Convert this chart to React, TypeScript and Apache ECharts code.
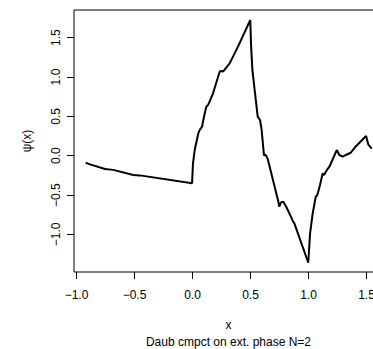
import React, { useEffect, useRef } from "react";
import * as echarts from "echarts";

const xValues = [
  -0.921, -0.884, -0.754, -0.683, -0.51, -0.453, -0.004, 0.004, 0.019, 0.05, 0.062, 0.082,
  0.102, 0.119, 0.134, 0.177, 0.194, 0.234, 0.248, 0.263, 0.32, 0.392, 0.498, 0.504, 0.516,
  0.539, 0.562, 0.582, 0.596, 0.616, 0.63, 0.648, 0.74, 0.748, 0.763, 0.783, 0.812, 0.864,
  0.878, 0.998, 1.013, 1.036, 1.062, 1.076, 1.099, 1.122, 1.134, 1.162, 1.18, 1.243, 1.266,
  1.295, 1.32, 1.364, 1.401, 1.496, 1.516, 1.545,
];
const psiValues = [
  -0.089, -0.11, -0.169, -0.18, -0.245, -0.25, -0.35, -0.097, 0.072, 0.285, 0.327, 0.369,
  0.517, 0.623, 0.644, 0.793, 0.877, 1.068, 1.077, 1.068, 1.174, 1.386, 1.725, 1.43, 1.09,
  0.793, 0.496, 0.454, 0.327, 0.005, 0.012, -0.04, -0.585, -0.648, -0.593, -0.585, -0.661,
  -0.826, -0.86, -1.36, -0.99, -0.733, -0.521, -0.5, -0.372, -0.224, -0.245, -0.173, -0.14,
  0.072, 0.009, -0.013, 0.009, 0.038, 0.107, 0.25, 0.14, 0.09,
];
const xTicks = [-1.0, -0.5, 0.0, 0.5, 1.0, 1.5];
const yTicks = [-1.0, -0.5, 0.0, 0.5, 1.0, 1.5];
const xLabel = "x";
const yLabel = "ψ(x)";
const subtitle = "Daub cmpct on ext. phase N=2";

const fmt = (v: number) => {
  const s = Math.abs(v).toFixed(1);
  return v < 0 ? "\u2212" + s : s;
};

const FONT = "Liberation Sans, Arial, Helvetica, sans-serif";

export default function App() {
  const ref = useRef<HTMLDivElement>(null);
  useEffect(() => {
    if (!ref.current) return;
    const chart = echarts.init(ref.current, undefined, { renderer: "svg" });
    const data = xValues.map((x, i) => [x, psiValues[i]]);
    chart.setOption({
      animation: false,
      grid: {
        left: 74,
        top: 10,
        width: 309,
        height: 262,
        show: true,
        borderColor: "#000",
        borderWidth: 1,
        backgroundColor: "transparent",
      },
      xAxis: {
        type: "value",
        position: "bottom",
        min: -1.0216,
        max: 1.642,
        axisLine: { show: false, onZero: false },
        splitLine: { show: false },
        axisTick: {
          show: true,
          customValues: xTicks,
          length: 7,
          lineStyle: { color: "#000", width: 1 },
        },
        axisLabel: {
          customValues: xTicks,
          formatter: (v: number) => fmt(v),
          color: "#000",
          fontSize: 12,
          fontFamily: FONT,
          margin: 17,
        },
      },
      yAxis: {
        type: "value",
        position: "left",
        min: -1.478,
        max: 1.852,
        axisLine: { show: false, onZero: false },
        splitLine: { show: false },
        axisTick: {
          show: true,
          customValues: yTicks,
          length: 7,
          lineStyle: { color: "#000", width: 1 },
        },
        axisLabel: {
          customValues: yTicks,
          formatter: (v: number) => fmt(v),
          color: "#000",
          fontSize: 12,
          fontFamily: FONT,
          rotate: 90,
          margin: 12,
        },
      },
      series: [
        {
          type: "line",
          data,
          showSymbol: false,
          symbol: "none",
          lineStyle: { color: "#000", width: 2 },
          clip: true,
        },
      ],
      graphic: [
        {
          type: "text",
          x: 228.5,
          y: 325,
          style: {
            text: xLabel,
            fill: "#000",
            font: `12px ${FONT}`,
            align: "center",
            verticalAlign: "middle",
          },
        },
        {
          type: "text",
          x: 228.5,
          y: 341.5,
          style: {
            text: subtitle,
            fill: "#000",
            font: `12px ${FONT}`,
            align: "center",
            verticalAlign: "middle",
          },
        },
        {
          type: "text",
          x: 27,
          y: 141,
          rotation: Math.PI / 2,
          style: {
            text: yLabel,
            fill: "#000",
            font: `12px ${FONT}`,
            align: "center",
            verticalAlign: "middle",
          },
        },
      ],
    });
    return () => chart.dispose();
  }, []);
  return (
    <div
      style={{
        position: "fixed",
        left: 0,
        top: 0,
        width: 373,
        height: 349,
        overflow: "hidden",
        background: "#fff",
      }}
    >
      <div ref={ref} style={{ width: 400, height: 349 }} />
    </div>
  );
}
